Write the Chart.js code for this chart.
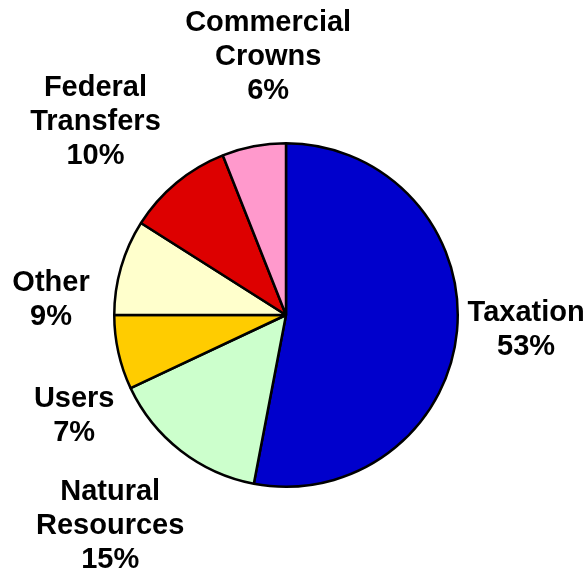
<!DOCTYPE html>
<html>
<head>
<meta charset="utf-8">
<script src="https://cdn.jsdelivr.net/npm/chart.js@4/dist/chart.umd.min.js"></script>
<style>
  html, body { margin: 0; padding: 0; background: #fff; }
  #wrap { width: 587px; height: 571px; }
</style>
</head>
<body>
<div id="wrap"><canvas id="pieChart" width="587" height="571"></canvas></div>
<script>
// Revenue sources, clockwise from 12 o'clock
const categories = ['Taxation', 'Natural Resources', 'Users', 'Other', 'Federal Transfers', 'Commercial Crowns'];
const shares = [53, 15, 7, 9, 10, 6];
const labelLines = [
    ['Taxation'],
    ['Natural', 'Resources'],
    ['Users'],
    ['Other'],
    ['Federal', 'Transfers'],
    ['Commercial', 'Crowns']
];
const sliceColors = ['#0000CC', '#CCFFCC', '#FFCC00', '#FFFFCC', '#DD0000', '#FF99CC'];

const FONT = 'bold 29px "Liberation Sans", Arial, sans-serif';
const LINE_H = 34;
const GAP = 18;

// Draws the multi-line category/percent labels just outside each slice
const outsideLabels = {
    id: 'outsideLabels',
    afterDatasetsDraw(chart, args, opts) {
        const ctx = chart.ctx;
        const meta = chart.getDatasetMeta(0);
        const nudge = opts.nudge || [];
        ctx.save();
        ctx.font = FONT;
        ctx.fillStyle = '#000';
        ctx.textAlign = 'center';
        ctx.textBaseline = 'middle';
        meta.data.forEach((arc, i) => {
            const lines = labelLines[i].concat([shares[i] + '%']);
            const w = Math.max(...lines.map(l => ctx.measureText(l).width));
            const h = lines.length * LINE_H;
            const mid = (arc.startAngle + arc.endAngle) / 2;
            const dx = Math.cos(mid), dy = Math.sin(mid);
            const dist = arc.outerRadius + GAP + Math.abs(dx) * w / 2 + Math.abs(dy) * h / 2;
            const [nx, ny] = nudge[i] || [0, 0];
            const cx = arc.x + dx * dist + nx;
            const cy = arc.y + dy * dist + ny;
            lines.forEach((line, j) => {
                ctx.fillText(line, cx, cy - h / 2 + LINE_H * (j + 0.5));
            });
        });
        ctx.restore();
    }
};

new Chart(document.getElementById('pieChart'), {
    type: 'pie',
    data: {
        labels: categories,
        datasets: [{
            data: shares,
            backgroundColor: sliceColors,
            borderColor: '#000',
            borderWidth: 2.5
        }]
    },
    options: {
        responsive: false,
        animation: false,
        layout: { padding: { left: 113, right: 128, top: 142, bottom: 83 } },
        plugins: {
            legend: { display: false },
            tooltip: { enabled: false },
            outsideLabels: {
                nudge: [[-10, -9], [-7, -7], [19, 49], [-8, 51], [-18, 16], [30, -7]]
            }
        }
    },
    plugins: [outsideLabels]
});
</script>
</body>
</html>
